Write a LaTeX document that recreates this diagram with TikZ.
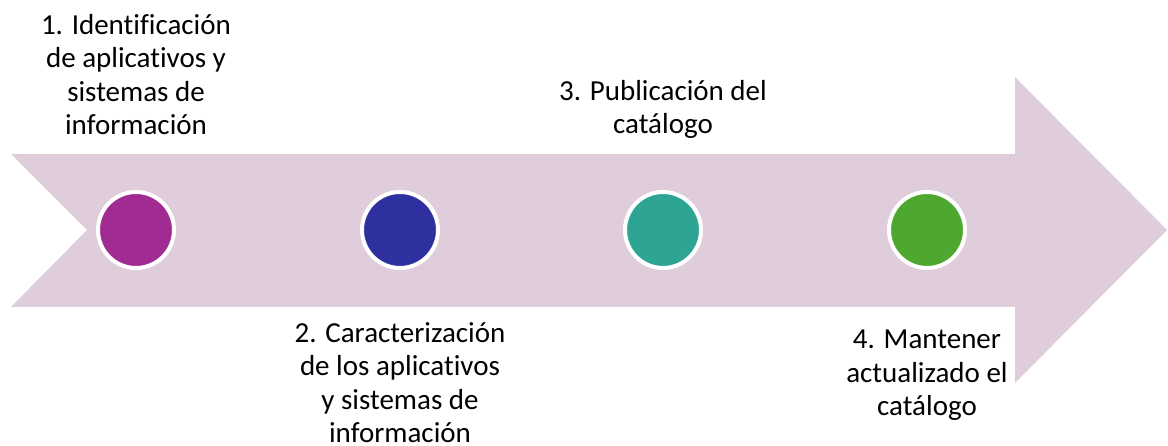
\documentclass[tikz,border=0pt]{standalone}
\usepackage{fontspec}
\setmainfont{Carlito}[Ligatures=NoCommon]
\definecolor{arrowfill}{HTML}{DFCDDC}
\definecolor{cpurple}{HTML}{A02B93}
\definecolor{cblue}{HTML}{2E30A0}
\definecolor{cteal}{HTML}{2EA593}
\definecolor{cgreen}{HTML}{4EA72E}
\tikzset{
  dot/.style={circle, draw=white, line width=4pt, minimum size=76pt, inner sep=0pt},
  label/.style={align=center, inner sep=0pt, anchor=base, font=\fontsize{29}{33.5}\selectfont},
}
\begin{document}
\begin{tikzpicture}[x=1pt,y=1pt]
\useasboundingbox (0,0) rectangle (1168,446);
\fill[arrowfill] (11,292) -- (1015,292) -- (1015,369) -- (1167,216) -- (1015,63) -- (1015,139) -- (11,139) -- (87,216) -- cycle;
\node[dot, fill=cpurple] (c1) at (136,216) {};
\node[dot, fill=cblue] (c2) at (400,216) {};
\node[dot, fill=cteal] (c3) at (663,216) {};
\node[dot, fill=cgreen] (c4) at (927,216) {};
\node[label] (t1) at (136,311) {1. Identificación\\de aplicativos y\\sistemas de\\información};
\node[label] (t2) at (400,3) {2. Caracterización\\de los aplicativos\\y sistemas de\\información};
\node[label] (t3) at (663,312) {3. Publicación del\\catálogo};
\node[label] (t4) at (927,30) {4. Mantener\\actualizado el\\catálogo};
\end{tikzpicture}
\end{document}
